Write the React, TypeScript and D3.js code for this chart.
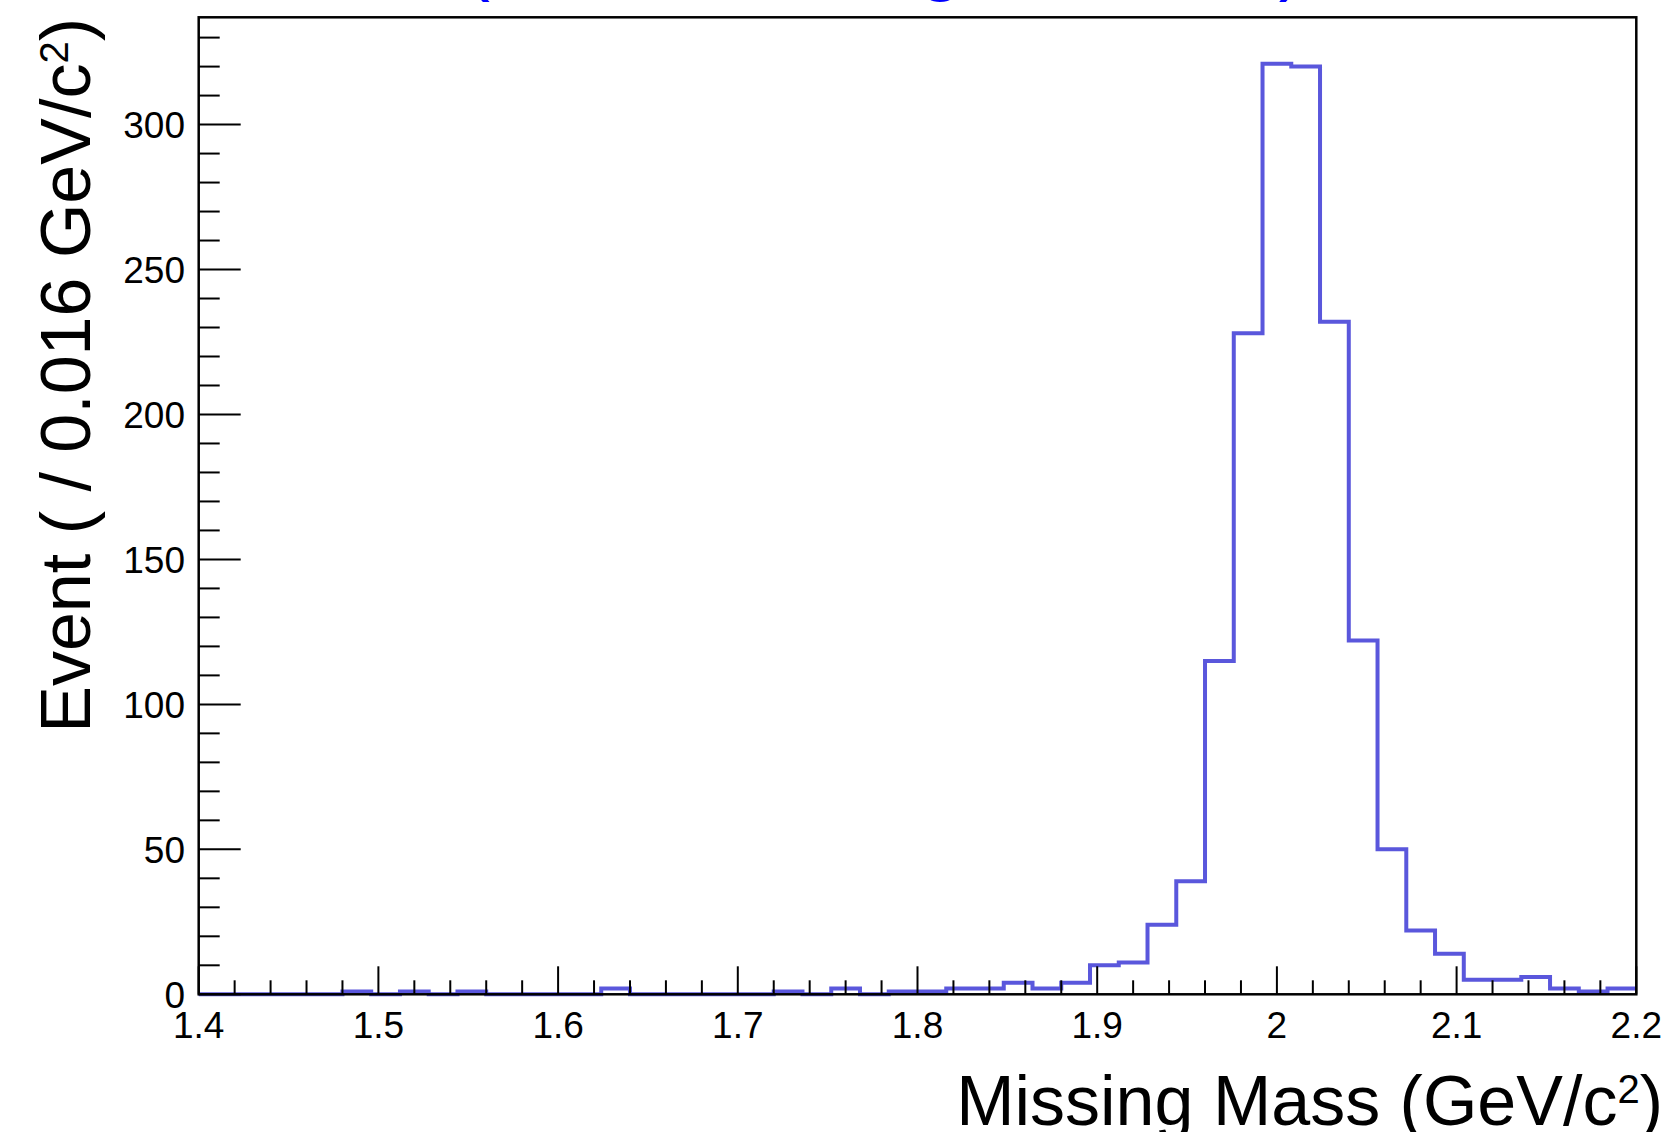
import React from 'react';
import * as d3 from 'd3';

// histogram: 50 bins of 0.016 GeV/c^2 from 1.4 to 2.2
const binStart = 1.4;
const binWidth = 0.016;
const counts = [
  0, 0, 0, 0, 0, 1, 0, 1, 0, 1,
  0, 0, 0, 0, 2, 0, 0, 0, 0, 0,
  1, 0, 2, 0, 1, 1, 2, 2, 4, 2,
  4, 10, 11, 24, 39, 115, 228, 321, 320, 232,
  122, 50, 22, 14, 5, 5, 6, 2, 1, 2,
];

const xTickValues = [1.4, 1.5, 1.6, 1.7, 1.8, 1.9, 2.0, 2.1, 2.2];
const xTickLabels = ['1.4', '1.5', '1.6', '1.7', '1.8', '1.9', '2', '2.1', '2.2'];
const yTickValues = [0, 50, 100, 150, 200, 250, 300];
const yTickLabels = ['0', '50', '100', '150', '200', '250', '300'];

const W = 1666;
const H = 1132;
const frame = { left: 198.7, right: 1636.3, top: 17.3, bottom: 994.3 };
const font = '"Liberation Sans", Arial, Helvetica, sans-serif';
const histColor = '#5a57dc';

export default function App() {
  const x = d3.scaleLinear().domain([1.4, 2.2]).range([frame.left, frame.right]);
  const y = d3.scaleLinear().domain([0, 337]).range([frame.bottom, frame.top]);

  // step outline, last edge repeats the last bin value
  const pts: [number, number][] = counts.map((c, i) => [binStart + i * binWidth, c]);
  pts.push([binStart + counts.length * binWidth, counts[counts.length - 1]]);
  const path = d3.line<[number, number]>()
    .x(d => x(d[0]))
    .y(d => y(d[1]))
    .curve(d3.curveStepAfter)(pts) as string;

  const xMinor = d3.range(0, 41).map(i => 1.4 + i * 0.02);
  const yMinor = d3.range(0, 34).map(i => i * 10);

  return (
    <svg width={W} height={H} style={{ position: 'absolute', left: 0, top: 0, background: '#fff' }}
      fontFamily={font}>
      {/* title, mostly above the page */}
      <text x={464} y={-14} fontSize={78} fill="#0000ff">(Data: Missing Mass Fit)</text>

      <path d={path} fill="none" stroke={histColor} strokeWidth={4} />

      {/* x ticks */}
      {xMinor.map((v, i) => (
        <line key={'xm' + i} x1={x(v)} x2={x(v)} y1={frame.bottom}
          y2={frame.bottom - (i % 5 === 0 ? 28 : 14)} stroke="#000" strokeWidth={2} />
      ))}
      {/* y ticks */}
      {yMinor.map((v, i) => (
        <line key={'ym' + i} x1={frame.left} x2={frame.left + (i % 5 === 0 ? 42 : 21)}
          y1={y(v)} y2={y(v)} stroke="#000" strokeWidth={2} />
      ))}

      <rect x={frame.left} y={frame.top} width={frame.right - frame.left}
        height={frame.bottom - frame.top} fill="none" stroke="#000" strokeWidth={2.5} />

      {xTickValues.map((v, i) => (
        <text key={'xl' + i} x={x(v)} y={1038} fontSize={37} textAnchor="middle">{xTickLabels[i]}</text>
      ))}
      {yTickValues.map((v, i) => (
        <text key={'yl' + i} x={185} y={y(v)} dy="0.36em" fontSize={37} textAnchor="end">{yTickLabels[i]}</text>
      ))}

      <text x={1663} y={1125} fontSize={70} textAnchor="end">
        Missing Mass (GeV/c<tspan fontSize={40} dy={-22}>2</tspan><tspan dy={22}>)</tspan>
      </text>
      <text transform="translate(90,18) rotate(-90)" fontSize={70} textAnchor="end">
        Event ( / 0.016 GeV/c<tspan fontSize={40} dy={-22}>2</tspan><tspan dy={22}>)</tspan>
      </text>
    </svg>
  );
}
